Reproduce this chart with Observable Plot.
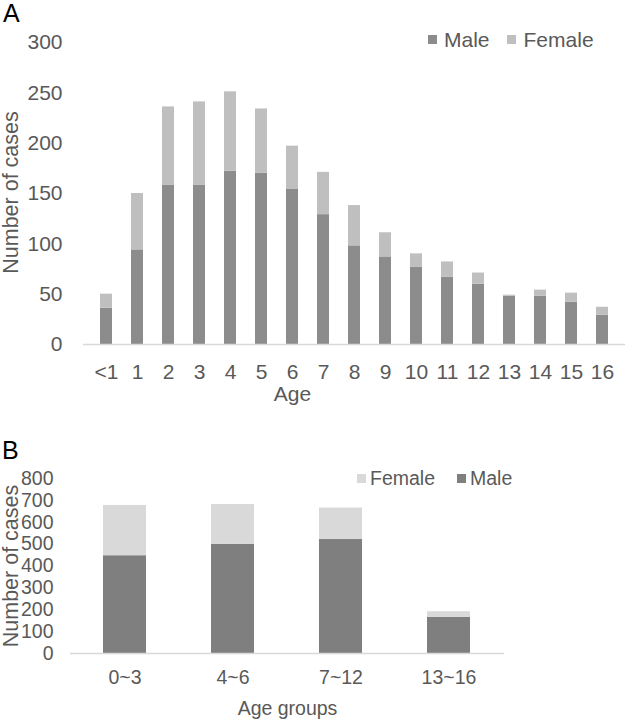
<!DOCTYPE html>
<html><head><meta charset="utf-8">
<script src="https://cdn.jsdelivr.net/npm/d3@7"></script>
<script src="https://cdn.jsdelivr.net/npm/@observablehq/plot@0.6"></script>
<style>
body{margin:0;background:#fff;font-family:"Liberation Sans",Arial,sans-serif;}
.panel{position:relative;width:626px;overflow:hidden;}
.tag{position:absolute;color:#000;font-size:25px;line-height:1;}
.leg{position:absolute;display:flex;align-items:center;color:#595959;font-size:21px;line-height:1;white-space:nowrap}
.sw{display:inline-block;width:9px;height:9px;margin-right:7px}
</style></head><body>
<div id="A" class="panel" style="height:410px"></div>
<div id="B" class="panel" style="height:311px"></div>
<script>
// Panel A data
const ages = ["<1","1","2","3","4","5","6","7","8","9","10","11","12","13","14","15","16"];
const maleA   = [36,94,158,158,172,170,154,129,98,87,77,67,60,48,48,42,29];
const femaleA = [14,56,78,83,79,64,43,42,40,24,13,15,11,1,6,9,8];
const yTicksA = [0,50,100,150,200,250,300];
const sexes = ["Male","Female"];
const colorsA = ["#8c8c8c","#bfbfbf"];

// Panel B data
const groups = ["0~3","4~6","7~12","13~16"];
const maleB   = [447,499,521,165];
const femaleB = [230,182,144,26];
const yTicksB = [0,100,200,300,400,500,600,700,800];
const colorsB = ["#7f7f7f","#d9d9d9"];

const font = '"Liberation Sans", Arial, sans-serif';

const dataA = ages.flatMap((a,i)=>[{age:a,sex:"Male",n:maleA[i]},{age:a,sex:"Female",n:femaleA[i]}]);
const chartA = Plot.plot({
  width:626,height:410,marginLeft:83,marginRight:1,marginTop:42,marginBottom:66,
  style:{fontFamily:font,fontSize:"21px",color:"#595959",background:"#fff"},
  x:{domain:ages,paddingInner:0.6,paddingOuter:0.3,label:null},
  y:{domain:[0,300],label:null},
  color:{domain:sexes,range:colorsA},
  marks:[
    Plot.barY(dataA,{x:"age",y:"n",fill:"sex"}),
    Plot.ruleY([0],{stroke:"#d9d9d9",strokeWidth:1.5}),
    Plot.axisX({tickSize:0,tickPadding:20,label:null}),
    Plot.axisY({ticks:yTicksA,tickSize:0,tickPadding:21,label:null}),
    Plot.text(["Number of cases"],{text:d=>d,frameAnchor:"left",textAnchor:"middle",lineAnchor:"middle",rotate:-90,dx:-72,dy:-1,fill:"#595959",fontSize:21.5}),
    Plot.text(["Age"],{text:d=>d,frameAnchor:"bottom",dx:-62,dy:56,fill:"#595959"})
  ]
});
const A = document.getElementById("A");
A.appendChild(chartA);
A.insertAdjacentHTML("beforeend",
  `<div class="tag" style="left:3px;top:1px">A</div>
   <div class="leg" style="left:428px;top:29px">
     <span class="sw" style="background:${colorsA[0]}"></span><span>Male</span>
     <span class="sw" style="background:${colorsA[1]};margin-left:17px;margin-right:8px"></span><span>Female</span>
   </div>`);

const dataB = groups.flatMap((g,i)=>[{g,sex:"Male",n:maleB[i]},{g,sex:"Female",n:femaleB[i]}]);
const chartB = Plot.plot({
  width:626,height:311,marginLeft:70,marginRight:122,marginTop:68,marginBottom:68,
  style:{fontFamily:font,fontSize:"19.5px",color:"#595959",background:"#fff"},
  x:{domain:groups,paddingInner:0.6,paddingOuter:0.3,label:null},
  y:{domain:[0,800],label:null},
  color:{domain:sexes,range:colorsB},
  marks:[
    Plot.barY(dataB,{x:"g",y:"n",fill:"sex"}),
    Plot.ruleY([0],{stroke:"#d9d9d9",strokeWidth:1.5}),
    Plot.axisX({tickSize:0,tickPadding:17,label:null}),
    Plot.axisY({ticks:yTicksB,tickSize:0,tickPadding:17,label:null}),
    Plot.text(["Number of cases"],{text:d=>d,frameAnchor:"left",textAnchor:"middle",lineAnchor:"middle",rotate:-90,dx:-59,fill:"#595959",fontSize:21.5}),
    Plot.text(["Age groups"],{text:d=>d,frameAnchor:"bottom",dx:0,dy:61,fill:"#595959"})
  ]
});
const B = document.getElementById("B");
B.appendChild(chartB);
B.insertAdjacentHTML("beforeend",
  `<div class="tag" style="left:2px;top:28px">B</div>
   <div class="leg" style="left:357px;top:59px;font-size:19.5px">
     <span class="sw" style="background:${colorsB[1]};margin-right:4px"></span><span>Female</span>
     <span class="sw" style="background:${colorsB[0]};margin-left:22px;margin-right:4px"></span><span>Male</span>
   </div>`);
</script>
</body></html>
